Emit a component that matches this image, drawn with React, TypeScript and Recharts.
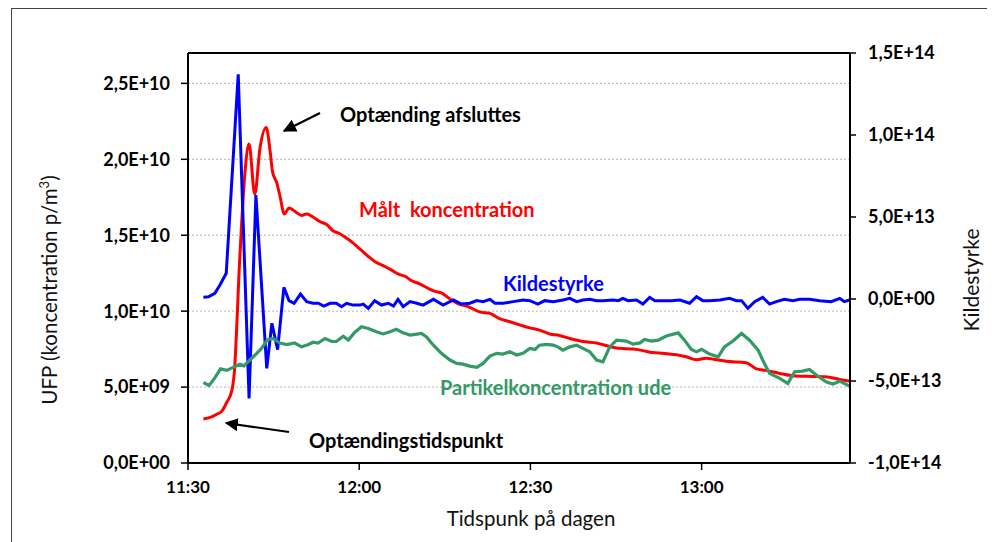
import { CartesianGrid, Line, LineChart, ReferenceLine, XAxis, YAxis } from "recharts";

// minutes after 11:30
const redTime = [
  2.7, 3.9, 5.0, 5.9, 6.8, 7.7, 8.1, 9.1, 10.0, 10.7, 11.7, 12.6, 13.7, 14.4, 14.8, 15.6, 16.1, 16.9,
  17.7, 19.0, 19.9, 20.8, 21.9, 23.1, 24.3, 25.4, 26.6, 27.8, 28.9, 30.1, 31.6, 33.0, 34.2, 35.7, 37.1,
  38.0, 39.2, 40.6, 42.1, 43.3, 44.4, 45.9, 47.3, 49.1, 51.1, 52.9, 54.6, 56.4, 58.1, 59.9, 61.6, 63.4,
  65.1, 66.9, 69.2, 71.6, 73.6, 75.6, 78.0, 79.7, 80.9, 82.6, 85.0, 87.3, 89.1, 90.8, 92.6, 94.3, 97.8,
  99.6, 101.3, 103.7, 106.0, 109.5, 112.4, 114.2, 115.9,
];
// Målt koncentration, x 1E10 p/m3
const redValue = [
  0.29, 0.3, 0.32, 0.34, 0.4, 0.48, 0.59, 1.37, 1.92, 2.1, 1.77, 2.07, 2.21, 2.05, 1.92, 1.84, 1.76, 1.64,
  1.68, 1.65, 1.63, 1.64, 1.62, 1.59, 1.57, 1.53, 1.51, 1.48, 1.45, 1.41, 1.36, 1.32, 1.3, 1.27, 1.24,
  1.23, 1.2, 1.18, 1.15, 1.13, 1.12, 1.08, 1.05, 1.03, 0.995, 0.985, 0.95, 0.93, 0.91, 0.89, 0.875, 0.85,
  0.84, 0.82, 0.8, 0.79, 0.77, 0.755, 0.75, 0.74, 0.73, 0.725, 0.715, 0.7, 0.68, 0.69, 0.68, 0.67, 0.66,
  0.62, 0.61, 0.59, 0.575, 0.57, 0.565, 0.55, 0.54,
];

const blueTime = [
  2.7, 3.6, 4.7, 5.6, 6.7, 8.8, 10.7, 11.9, 13.8, 14.7, 15.7, 16.8, 17.7, 18.6, 19.7, 20.8, 21.9, 22.8,
  23.8, 24.9, 26.0, 26.9, 27.8, 28.9, 30.1, 30.7, 31.6, 32.7, 33.9, 35.1, 36.0, 36.8, 37.7, 38.9, 40.1,
  41.2, 43.0, 44.7, 46.5, 47.9, 49.4, 50.6, 51.7, 52.9, 53.8, 55.2, 57.0, 58.7, 59.9, 61.3, 62.5, 64.0,
  65.7, 66.9, 68.1, 69.2, 70.4, 71.6, 72.7, 74.5, 75.4, 76.2, 77.1, 78.6, 79.7, 80.9, 81.8, 83.2, 84.7,
  86.2, 87.9, 89.1, 90.2, 91.4, 93.2, 94.9, 96.1, 97.0, 98.1, 99.3, 100.7, 101.9, 103.1, 104.5, 106.0,
  107.2, 108.9, 110.7, 112.7, 114.2, 115.0, 115.9,
];
// Kildestyrke, x 1E13
const blueValue = [
  0.1, 0.14, 0.35, 0.85, 1.57, 13.7, -6.06, 6.34, -4.23, -1.48, -3.09, 0.71, -0.1, -0.26, 0.3, -0.16,
  -0.26, -0.26, -0.43, -0.26, -0.26, -0.47, -0.26, -0.37, -0.37, -0.31, -0.57, -0.1, -0.37, -0.26, -0.43,
  -0.02, -0.47, -0.16, -0.26, -0.37, -0.02, -0.37, -0.06, -0.31, -0.26, -0.1, -0.16, -0.02, -0.26, -0.26,
  -0.16, -0.06, -0.1, -0.31, -0.1, -0.16, -0.06, 0.04, -0.16, -0.06, -0.02, -0.1, -0.1, -0.06, -0.1, 0.04,
  -0.1, -0.06, -0.31, 0.1, -0.1, -0.1, -0.1, -0.06, -0.26, 0.14, -0.1, -0.1, -0.06, 0.04, -0.1, -0.1,
  -0.57, -0.16, 0.1, -0.31, -0.16, -0.02, -0.1, -0.02, -0.02, -0.1, -0.16, 0.04, -0.16, -0.06,
];

const greenTime = [
  2.7, 3.7, 4.7, 5.7, 6.8, 7.9, 9.1, 9.8, 10.9, 12.0, 12.9, 13.9, 14.9, 16.1, 17.3, 18.7, 19.9, 21.1,
  21.9, 22.8, 24.0, 25.2, 26.0, 27.2, 28.1, 29.2, 30.4, 31.6, 33.0, 34.2, 35.4, 36.5, 37.7, 38.9, 40.1,
  40.9, 41.8, 43.0, 44.4, 45.9, 47.1, 48.2, 49.4, 50.6, 51.7, 52.9, 54.1, 55.2, 56.4, 57.6, 58.7, 59.9,
  60.8, 61.6, 62.8, 64.0, 64.8, 65.7, 66.9, 68.1, 69.2, 70.4, 71.6, 72.7, 73.9, 75.1, 76.8, 78.0, 79.2,
  80.0, 81.2, 82.4, 83.8, 85.9, 87.0, 88.2, 89.1, 90.0, 91.4, 92.9, 94.0, 95.5, 97.0, 98.4, 99.9, 100.7,
  101.9, 103.7, 105.1, 106.3, 107.7, 108.9, 110.1, 111.8, 113.0, 114.2, 115.9,
];
// Partikelkoncentration ude, x 1E10 p/m3
const greenValue = [
  0.53, 0.51, 0.56, 0.62, 0.61, 0.63, 0.65, 0.64, 0.68, 0.72, 0.755, 0.81, 0.82, 0.79, 0.78, 0.79, 0.765,
  0.78, 0.795, 0.79, 0.82, 0.8, 0.8, 0.835, 0.81, 0.86, 0.897, 0.886, 0.864, 0.85, 0.864, 0.88, 0.857,
  0.842, 0.849, 0.853, 0.83, 0.776, 0.722, 0.678, 0.656, 0.651, 0.638, 0.63, 0.656, 0.704, 0.722, 0.717,
  0.732, 0.711, 0.722, 0.755, 0.748, 0.776, 0.781, 0.776, 0.765, 0.743, 0.765, 0.776, 0.755, 0.732, 0.678,
  0.666, 0.765, 0.809, 0.803, 0.783, 0.791, 0.814, 0.803, 0.809, 0.836, 0.857, 0.809, 0.748, 0.732, 0.748,
  0.717, 0.699, 0.765, 0.803, 0.853, 0.809, 0.743, 0.678, 0.59, 0.557, 0.524, 0.601, 0.605, 0.616, 0.579,
  0.535, 0.52, 0.539, 0.507,
];

const xTicks = [0, 30, 60, 90];
const xTickLabels = ["11:30", "12:00", "12:30", "13:00"];
const leftTicks = [0, 0.5, 1, 1.5, 2, 2.5];
const leftTickLabels = ["0,0E+00", "5,0E+09", "1,0E+10", "1,5E+10", "2,0E+10", "2,5E+10"];
const rightTicks = [-10, -5, 0, 5, 10, 15];
const rightTickLabels = ["-1,0E+14", "-5,0E+13", "0,0E+00", "5,0E+13", "1,0E+14", "1,5E+14"];

const FONT = "Lato, 'Open Sans', sans-serif";

const toPoints = (time: number[], values: number[]) =>
  time.map((t, i) => ({ t, v: values[i] }));

const tickStyle = { fill: "#000", fontSize: 18, fontWeight: 700, fontFamily: FONT };

export default function App() {
  const red = toPoints(redTime, redValue);
  const blue = toPoints(blueTime, blueValue);
  const green = toPoints(greenTime, greenValue);

  return (
    <div
      style={{
        position: "relative",
        width: 979,
        height: 534,
        overflow: "hidden",
        background: "#fff",
        fontFamily: FONT,
      }}
    >
      <div
        style={{
          position: "absolute",
          left: 3,
          top: 0,
          width: 1100,
          height: 700,
          borderLeft: "1.5px solid #444",
          borderTop: "1.5px solid #444",
        }}
      />
      <LineChart
        width={979}
        height={534}
        margin={{ top: 45, right: 0, bottom: 0, left: 0 }}
        style={{ position: "absolute", left: 0, top: 0 }}
      >
        <CartesianGrid
          yAxisId="left"
          vertical={false}
          stroke="#b5b5b5"
          strokeDasharray="2 2"
        />
        <XAxis
          dataKey="t"
          type="number"
          domain={[0, 116]}
          ticks={xTicks}
          interval={0}
          allowDataOverflow
          height={79}
          tickSize={7}
          tickMargin={11}
          axisLine={{ stroke: "#000", strokeWidth: 2 }}
          tickLine={{ stroke: "#000", strokeWidth: 1.5 }}
          tick={{ ...tickStyle, fontSize: 17 }}
          tickFormatter={(v: number) => xTickLabels[xTicks.indexOf(v)] ?? ""}
        />
        <YAxis
          yAxisId="left"
          type="number"
          domain={[0, 2.7]}
          ticks={leftTicks}
          interval={0}
          width={180}
          tickSize={7}
          tickMargin={11}
          axisLine={{ stroke: "#000", strokeWidth: 2 }}
          tickLine={{ stroke: "#000", strokeWidth: 1.5 }}
          tick={tickStyle}
          tickFormatter={(v: number) => leftTickLabels[leftTicks.indexOf(v)] ?? ""}
        />
        <YAxis
          yAxisId="right"
          orientation="right"
          type="number"
          domain={[-10, 15]}
          ticks={rightTicks}
          interval={0}
          width={137}
          tickSize={6}
          tickMargin={12}
          axisLine={{ stroke: "#000", strokeWidth: 2 }}
          tickLine={{ stroke: "#000", strokeWidth: 1.5 }}
          tick={{ ...tickStyle, textAnchor: "start" }}
          tickFormatter={(v: number) => rightTickLabels[rightTicks.indexOf(v)] ?? ""}
        />
        <ReferenceLine yAxisId="left" y={2.7} stroke="#000" strokeWidth={2} ifOverflow="visible" />
        <Line
          yAxisId="left"
          data={red}
          dataKey="v"
          type="monotone"
          stroke="#ff0000"
          strokeWidth={3}
          dot={false}
          activeDot={false}
          isAnimationActive={false}
        />
        <Line
          yAxisId="right"
          data={blue}
          dataKey="v"
          type="linear"
          stroke="#0000ff"
          strokeWidth={3}
          dot={false}
          activeDot={false}
          isAnimationActive={false}
        />
        <Line
          yAxisId="left"
          data={green}
          dataKey="v"
          type="linear"
          stroke="#339966"
          strokeWidth={3.2}
          dot={false}
          activeDot={false}
          isAnimationActive={false}
        />
      </LineChart>
      <svg
        width={979}
        height={534}
        style={{ position: "absolute", left: 0, top: 0, pointerEvents: "none" }}
        fontFamily={FONT}
      >
        <defs>
          <marker
            id="head"
            viewBox="0 0 10 10"
            refX="9"
            refY="5"
            markerWidth="6"
            markerHeight="6"
            markerUnits="strokeWidth"
            orient="auto"
          >
            <path d="M0,0 L10,5 L0,10 z" fill="#000" />
          </marker>
        </defs>
        <line x1={312} y1={105} x2={276} y2={123} stroke="#000" strokeWidth={2.2} markerEnd="url(#head)" />
        <line x1={281} y1={424} x2={218} y2={415} stroke="#000" strokeWidth={2.2} markerEnd="url(#head)" />

        <text x={332} y={114} fontSize={20} fontWeight={700} fill="#000">
          Optænding afsluttes
        </text>
        <text x={351} y={209} fontSize={20} fontWeight={700} fill="#ff0000" style={{ whiteSpace: "pre" }}>
          {"Målt  koncentration"}
        </text>
        <text x={495} y={283} fontSize={20} fontWeight={700} fill="#0000ff">
          Kildestyrke
        </text>
        <text x={432} y={387} fontSize={20} fontWeight={700} fill="#339966">
          Partikelkoncentration ude
        </text>
        <text x={301} y={440} fontSize={20} fontWeight={700} fill="#000">
          Optændingstidspunkt
        </text>

        <text
          transform="translate(49 282) rotate(-90)"
          textAnchor="middle"
          fontSize={20.5}
          fill="#111"
        >
          UFP (koncentration p/m
          <tspan fontSize={13} dy={-8}>
            3
          </tspan>
          <tspan dy={8}>)</tspan>
        </text>
        <text
          transform="translate(971 272) rotate(-90)"
          textAnchor="middle"
          fontSize={21}
          fill="#111"
        >
          Kildestyrke
        </text>
        <text x={523} y={518} textAnchor="middle" fontSize={20.5} fill="#111">
          Tidspunk på dagen
        </text>
      </svg>
    </div>
  );
}
